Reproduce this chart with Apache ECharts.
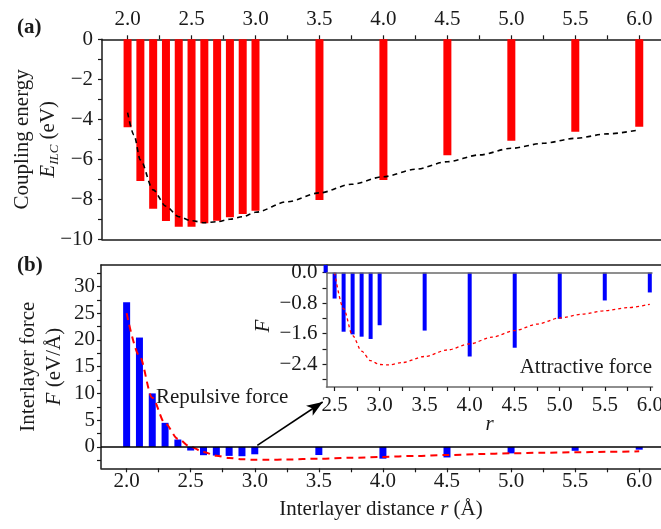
<!DOCTYPE html>
<html>
<head>
<meta charset="utf-8">
<script src="https://cdn.jsdelivr.net/npm/echarts@6/dist/echarts.min.js"></script>
<style>
  html, body { margin: 0; padding: 0; background: #fff; }
  #chart { width: 661px; height: 529px; }
</style>
</head>
<body>
<div id="chart"></div>
<script>
// interlayer distance r (Å) where the bars sit
const rVals = [2.0, 2.1, 2.2, 2.3, 2.4, 2.5, 2.6, 2.7, 2.8, 2.9, 3.0, 3.5, 4.0, 4.5, 5.0, 5.5, 6.0]
// (a) coupling energy E_ILC (eV)
const couplingE = [-4.4, -7.09, -8.47, -9.09, -9.37, -9.37, -9.2, -9.07, -8.9, -8.74, -8.57, -8.03, -7.03, -5.8, -5.07, -4.62, -4.37]
// (b) interlayer force F (eV/Å)
const forceF = [27.06, 20.44, 10.0, 4.5, 1.38, -0.68, -1.55, -1.62, -1.68, -1.74, -1.38, -1.52, -2.2, -1.97, -1.21, -0.73, -0.52]

// dashed fit curves
const eFitR = [2.0, 2.05, 2.1, 2.2, 2.3, 2.4, 2.5, 2.6, 2.7, 2.8, 2.9, 3.0, 3.25, 3.5, 3.75, 4.0, 4.25, 4.5, 4.75, 5.0, 5.25, 5.5, 5.75, 6.0]
const eFit = [-3.67, -4.78, -6.03, -7.53, -8.35, -8.87, -9.07, -9.17, -9.12, -9.0, -8.87, -8.65, -8.12, -7.68, -7.25, -6.87, -6.5, -6.12, -5.78, -5.45, -5.2, -4.95, -4.73, -4.53]
const fFitR = [2.0, 2.1, 2.2, 2.3, 2.4, 2.5, 2.6, 2.7, 2.8, 2.9, 3.0, 3.1, 3.25, 3.5, 3.75, 4.0, 4.25, 4.5, 4.75, 5.0, 5.25, 5.5, 5.75, 6.0]
const fFit = [25.0, 17.0, 9.2, 4.4, 1.5, 0.0, -0.95, -1.65, -2.06, -2.31, -2.41, -2.42, -2.36, -2.2, -2.03, -1.87, -1.69, -1.52, -1.35, -1.19, -1.09, -1.0, -0.92, -0.83]

// tick labels
const rTicks = [2.0, 2.5, 3.0, 3.5, 4.0, 4.5, 5.0, 5.5, 6.0]
const rMinor = [2.0, 2.25, 2.5, 2.75, 3.0, 3.25, 3.5, 3.75, 4.0, 4.25, 4.5, 4.75, 5.0, 5.25, 5.5, 5.75, 6.0]
const eTicks = [0, -2, -4, -6, -8, -10]
const eMinor = [0, -1, -2, -3, -4, -5, -6, -7, -8, -9, -10]
const fTicks = [0, 5, 10, 15, 20, 25, 30]
const fMinor = [-2.5, 0, 2.5, 5, 7.5, 10, 12.5, 15, 17.5, 20, 22.5, 25, 27.5, 30, 32.5]
const insetRTicks = [2.5, 3.0, 3.5, 4.0, 4.5, 5.0, 5.5, 6.0]
const insetRMinor = [2.5, 2.75, 3.0, 3.25, 3.5, 3.75, 4.0, 4.25, 4.5, 4.75, 5.0, 5.25, 5.5, 5.75, 6.0]
const insetFTicks = [0, -0.8, -1.6, -2.4]
const insetFMinor = [0, -0.4, -0.8, -1.2, -1.6, -2.0, -2.4, -2.8]

const FONT = 'Liberation Serif'
const INK = '#1a1a1a'
const zip = (xs, ys) => xs.map((x, i) => [x, ys[i]])
const minus = v => (v < 0 ? '\u2212' : '') + Math.abs(v)
const minus1 = v => (v < 0 ? '\u2212' : '') + Math.abs(v).toFixed(1)

const label = (extra) => Object.assign({ fontFamily: FONT, fontSize: 21, color: INK }, extra)
const line = (color) => ({ show: true, onZero: false, lineStyle: { color: color || INK, width: 1.5 } })
const tick = (values, inside) => ({ show: true, inside: !!inside, length: 4, customValues: values, lineStyle: { color: INK, width: 1.2 } })

const myChart = echarts.init(document.getElementById('chart'))

const option = {
  backgroundColor: '#fff',
  animation: false,
  grid: [
    { left: 102, top: 39.3, right: 0, height: 200, outerBoundsMode: 'none' },
    { left: 101, top: 265, right: 0, height: 203.3, outerBoundsMode: 'none' },
    { left: 326.5, top: 265, width: 326, height: 122, outerBoundsMode: 'none' }
  ],
  xAxis: [
    {
      type: 'value', gridIndex: 0, position: 'top', min: 1.8, max: 6.17,
      axisLine: line(), axisTick: tick(rMinor), splitLine: { show: false },
      axisLabel: label({ margin: 9, customValues: rTicks, formatter: v => v.toFixed(1) })
    },
    {
      type: 'value', gridIndex: 0, position: 'bottom', min: 1.8, max: 6.17,
      axisLine: line(), axisTick: { show: false }, axisLabel: { show: false }, splitLine: { show: false }
    },
    {
      type: 'value', gridIndex: 1, position: 'bottom', min: 1.8, max: 6.17,
      axisLine: line(), axisTick: tick(rMinor), splitLine: { show: false },
      axisLabel: label({ margin: 3, customValues: rTicks, formatter: v => v.toFixed(1) }),
      name: '{t|Interlayer distance }{i|r}{t| (Å)}', nameLocation: 'middle', nameGap: 31, nameMoveOverlap: false,
      nameTextStyle: label({ rich: { t: label(), i: label({ fontStyle: 'italic' }) } })
    },
    {
      type: 'value', gridIndex: 1, position: 'top', min: 1.8, max: 6.17,
      axisLine: line(), axisTick: { show: false }, axisLabel: { show: false }, splitLine: { show: false }
    },
    {
      type: 'value', gridIndex: 2, position: 'bottom', min: 2.41, max: 6.03,
      axisLine: line('#6a6a6a'), axisTick: tick(insetRMinor), splitLine: { show: false },
      axisLabel: label({ margin: 8, customValues: insetRTicks, formatter: v => v.toFixed(1) }),
      name: 'r', nameLocation: 'middle', nameGap: 27, nameMoveOverlap: false,
      nameTextStyle: label({ fontStyle: 'italic' })
    }
  ],
  yAxis: [
    {
      type: 'value', gridIndex: 0, min: -10, max: 0,
      axisLine: line(), axisTick: tick(eMinor), splitLine: { show: false },
      axisLabel: label({ margin: 9, customValues: eTicks, formatter: minus }),
      name: '{t|Coupling energy}\n{i|E}{s|ILC}{t| (eV)}', nameLocation: 'middle', nameRotate: 90, nameGap: 41, nameMoveOverlap: false,
      nameTextStyle: label({
        rich: {
          t: label({ lineHeight: 26 }),
          i: label({ fontStyle: 'italic', lineHeight: 26 }),
          s: label({ fontStyle: 'italic', fontSize: 13, lineHeight: 14, verticalAlign: 'bottom' })
        }
      })
    },
    {
      type: 'value', gridIndex: 1, min: -4, max: 34,
      axisLine: line(), axisTick: tick(fMinor), splitLine: { show: false },
      axisLabel: label({ margin: 6, customValues: fTicks }),
      name: '{t|Interlayer force}\n{i|F}{t| (eV/Å)}', nameLocation: 'middle', nameRotate: 90, nameGap: 34, nameMoveOverlap: false,
      nameTextStyle: label({
        rich: {
          t: label({ lineHeight: 26 }),
          i: label({ fontStyle: 'italic', lineHeight: 26 })
        }
      })
    },
    {
      type: 'value', gridIndex: 2, min: -3.0, max: 0.2,
      axisLine: line('#6a6a6a'), axisTick: tick(insetFMinor), splitLine: { show: false },
      axisLabel: label({ margin: 9, customValues: insetFTicks, formatter: minus1 }),
      name: 'F', nameLocation: 'middle', nameRotate: 90, nameGap: 53, nameMoveOverlap: false,
      nameTextStyle: label({ fontStyle: 'italic' })
    }
  ],
  series: [
    {
      type: 'bar', xAxisIndex: 0, yAxisIndex: 0, barWidth: 8, z: 2,
      itemStyle: { color: '#ff0000' },
      data: zip(rVals, couplingE)
    },
    {
      type: 'line', xAxisIndex: 0, yAxisIndex: 0, z: 3, symbol: 'none',
      smooth: 0.3, smoothMonotone: 'x',
      lineStyle: { color: '#000', width: 1.6, type: [5, 4] },
      data: zip(eFitR, eFit)
    },
    {
      type: 'bar', xAxisIndex: 2, yAxisIndex: 1, barWidth: 7, z: 2,
      itemStyle: { color: '#0000ff' },
      data: zip(rVals, forceF),
      markLine: {
        silent: true, animation: false, label: { show: false },
        data: [
          [{ yAxis: 0, x: 101, symbol: 'none', lineStyle: { color: '#000', width: 1.5, type: 'solid' } },
           { yAxis: 0, x: 661, symbol: 'none' }],
          [{ coord: [3.02, 0.3], symbol: 'none', lineStyle: { color: '#000', width: 1.6, type: 'solid' } },
           { coord: [3.53, 8.4], symbol: 'arrow', symbolSize: [9, 16] }]
        ]
      }
    },
    {
      type: 'line', xAxisIndex: 2, yAxisIndex: 1, z: 3, symbol: 'none',
      smooth: 0.3, smoothMonotone: 'x',
      lineStyle: { color: '#ff0000', width: 2, type: [7, 5] },
      data: zip(fFitR, fFit)
    },
    {
      type: 'bar', xAxisIndex: 4, yAxisIndex: 2, barWidth: 4, z: 2,
      itemStyle: { color: '#0000ff' },
      data: zip(rVals, forceF).filter(d => d[0] >= 2.4),
      markLine: {
        silent: true, animation: false, label: { show: false }, symbol: 'none',
        lineStyle: { color: '#6a6a6a', width: 1.5, type: 'solid' },
        data: [{ yAxis: 0 }]
      }
    },
    {
      type: 'line', xAxisIndex: 4, yAxisIndex: 2, z: 3, symbol: 'none',
      smooth: 0.3, smoothMonotone: 'x',
      lineStyle: { color: '#ff0000', width: 1.3, type: [3, 3] },
      data: zip(fFitR, fFit).filter(d => d[0] >= 2.5)
    }
  ],
  graphic: [
    { type: 'text', left: 17, top: 17, style: { text: '(a)', font: 'bold 21px "Liberation Serif"', fill: INK } },
    { type: 'text', left: 17, top: 255, style: { text: '(b)', font: 'bold 21px "Liberation Serif"', fill: INK } },
    { type: 'text', x: 156, y: 397, style: { text: 'Repulsive force', font: '21px "Liberation Serif"', fill: INK, align: 'left', verticalAlign: 'middle' } },
    { type: 'text', x: 652, y: 367, style: { text: 'Attractive force', font: '21px "Liberation Serif"', fill: INK, align: 'right', verticalAlign: 'middle' } }
  ]
}

myChart.setOption(option)
</script>
</body>
</html>
